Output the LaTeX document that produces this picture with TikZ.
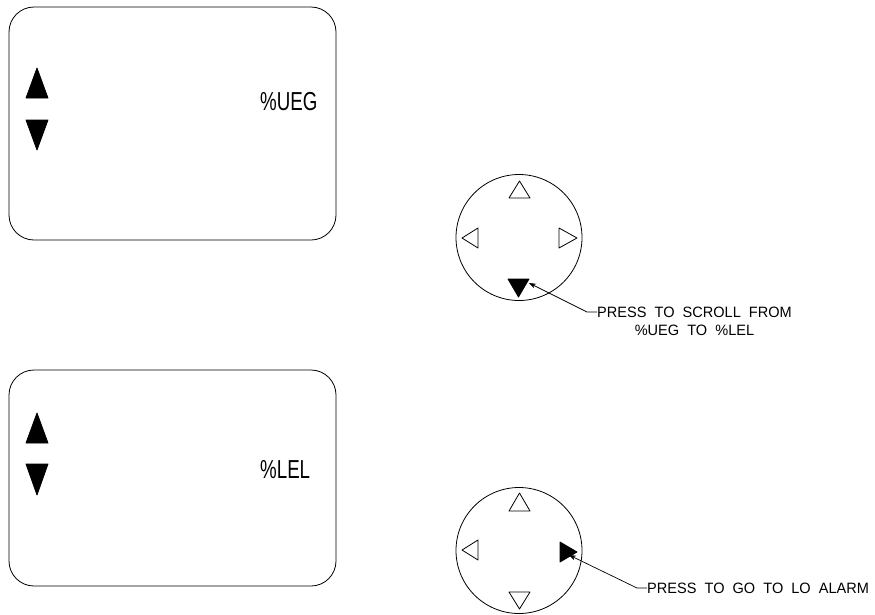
\documentclass[tikz,border=0pt]{standalone}
\usepackage{fontspec}
\setmainfont{Liberation Sans}
\newfontfamily\cadnarrow[FakeStretch=0.72]{Liberation Sans}
\newfontfamily\cadlabel[FakeStretch=0.97,WordSpace=2]{Liberation Sans}
\usetikzlibrary{arrows.meta}
\begin{document}
\begin{tikzpicture}[x=1pt,y=-1pt,
  line/.style={line width=0.8pt,line join=round},
  panel/.style={line, rounded corners=25pt},
  tri/.style={line, fill=white},
  trifill/.style={line, fill=black},
  disp/.style={inner sep=0pt, font=\fontsize{26}{28}\selectfont\cadnarrow},
  lbl/.style={inner sep=0pt, align=center, font=\fontsize{15}{18}\selectfont\cadlabel},
  leader/.style={line width=0.7pt, -{Stealth[length=7pt,width=5pt]}}]
\useasboundingbox (0,0) rectangle (875,614);

% ---- top display panel
\draw[panel] (9,7) rectangle (336,240);
\draw[trifill] (26,98) -- (48,98) -- (37,68) -- cycle;
\draw[trifill] (26,120) -- (48,120) -- (37,150) -- cycle;
\node[disp, anchor=base west] (ueg) at (260,110) {\%UEG};

% ---- bottom display panel
\draw[panel] (9,370) rectangle (336,586);
\draw[trifill] (26,443) -- (48,443) -- (37,413) -- cycle;
\draw[trifill] (26,464) -- (48,464) -- (37,495) -- cycle;
\node[disp, anchor=base west] (lel) at (260,478) {\%LEL};

% ---- top keypad
\node[draw, circle, line width=0.8pt, minimum size=126pt, inner sep=0pt] (pad1) at (519,237.5) {};
\draw[tri] (509,198) -- (530,198) -- (519.5,181) -- cycle;
\draw[tri] (478,228) -- (478,248) -- (462,238) -- cycle;
\draw[tri] (559,228) -- (559,248) -- (577,238) -- cycle;
\draw[trifill] (508,279) -- (529,279) -- (518.5,297) -- cycle;
\coordinate (tip1) at (529,283);
\coordinate (k1) at (587,312);
\coordinate (e1) at (597,312);
\node[lbl, anchor=west] (lbl1) at (597,321) {PRESS TO SCROLL FROM\\\%UEG TO \%LEL};
\draw[leader] (e1) -- (k1) -- (tip1);

% ---- bottom keypad
\node[draw, circle, line width=0.8pt, minimum size=126pt, inner sep=0pt] (pad2) at (519,550.5) {};
\draw[tri] (509,511) -- (530,511) -- (519.5,493) -- cycle;
\draw[tri] (478,540) -- (478,560) -- (462,550) -- cycle;
\draw[trifill] (560,542) -- (560,562) -- (577,552) -- cycle;
\draw[tri] (509,592) -- (530,592) -- (519.5,609) -- cycle;
\coordinate (tip2) at (569,555);
\coordinate (k2) at (637,588);
\coordinate (e2) at (647,588);
\node[lbl, anchor=west] (lbl2) at (647,588) {PRESS TO GO TO LO ALARM};
\draw[leader] (e2) -- (k2) -- (tip2);
\end{tikzpicture}
\end{document}
